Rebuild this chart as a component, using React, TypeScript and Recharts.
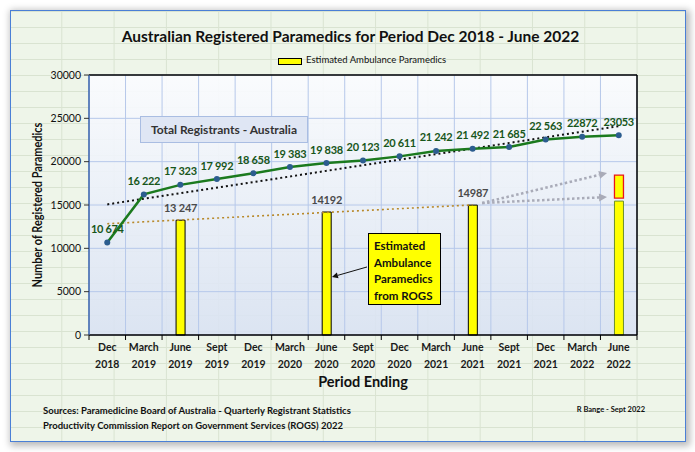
import React from 'react';
import {
  ComposedChart,
  Bar,
  Line,
  XAxis,
  YAxis,
  CartesianGrid,
  ReferenceLine,
  LabelList,
  Cell,
} from 'recharts';

const FONT = "Lato, 'Open Sans', sans-serif";

// quarter ending labels (two lines each)
const periodMonths = ['Dec', 'March', 'June', 'Sept', 'Dec', 'March', 'June', 'Sept', 'Dec', 'March', 'June', 'Sept', 'Dec', 'March', 'June'];
const periodYears = ['2018', '2019', '2019', '2019', '2019', '2020', '2020', '2020', '2020', '2021', '2021', '2021', '2021', '2022', '2022'];

// Paramedicine Board quarterly registrant totals
const totalRegistrants = [10674, 16222, 17323, 17992, 18658, 19383, 19838, 20123, 20611, 21242, 21492, 21685, 22563, 22872, 23053];
const totalLabels = ['10 674', '16 222', '17 323', '17 992', '18 658', '19 383', '19 838', '20 123', '20 611', '21 242', '21 492', '21 685', '22 563', '22872', '23053'];

// ROGS ambulance paramedic estimates (June years only), 2022 shown as a range
const ambulanceParamedics = [null, null, 13247, null, null, null, 14192, null, null, null, 14987, null, null, null, 15450];
const ambulanceLabels = [null, null, '13 247', null, null, null, '14192', null, null, null, '14987', null, null, null, null];
const ambulanceGap = [null, null, null, null, null, null, null, null, null, null, null, null, null, null, 350];
const ambulanceRange = [null, null, null, null, null, null, null, null, null, null, null, null, null, null, 2650];

// dotted trend lines (end points only)
const totalTrend = [15070, null, null, null, null, null, null, null, null, null, null, null, null, null, 24095];
const ambulanceTrend = [12840, null, null, null, null, null, null, null, null, null, 15010, null, null, null, null];

// projection arrows from the 2021 estimate toward 2022 (x = period index, y = count)
const projectionFrom = { x: 10.26, y: 15230 };
const projectionTo = [
  { x: 13.68, y: 18690 },
  { x: 13.68, y: 15920 },
];
// callout pointer onto the June 2020 bar
const calloutFrom = { x: 7.11, y: 7850 };
const calloutTo = { x: 6.15, y: 6690 };

const yTicks = [0, 5000, 10000, 15000, 20000, 25000, 30000];
const bandEdges = periodMonths.map((_, i) => i - 0.5).concat(periodMonths.length - 0.5);

const data = periodMonths.map((_, i) => ({
  idx: i,
  total: totalRegistrants[i],
  totalLabel: totalLabels[i],
  amb: ambulanceParamedics[i],
  ambLabel: ambulanceLabels[i],
  gap: ambulanceGap[i],
  range: ambulanceRange[i],
  totalTrend: totalTrend[i],
  ambTrend: ambulanceTrend[i],
}));

const arrowShape = (color: string, width: number, dash: string | undefined, head: number) => (p: any) => {
  const { x1, y1, x2, y2 } = p;
  const a = Math.atan2(y2 - y1, x2 - x1);
  const bx = x2 - head * Math.cos(a);
  const by = y2 - head * Math.sin(a);
  const w = head * 0.5;
  const pts = `${x2},${y2} ${bx - w * Math.sin(a)},${by + w * Math.cos(a)} ${bx + w * Math.sin(a)},${by - w * Math.cos(a)}`;
  return (
    <g>
      <line x1={x1} y1={y1} x2={bx} y2={by} stroke={color} strokeWidth={width} strokeDasharray={dash} />
      <polygon points={pts} fill={color} />
    </g>
  );
};

const PeriodTick = (props: any) => {
  const { x, y, payload } = props;
  const i = payload.value;
  return (
    <text textAnchor="middle" fill="#1a1a1a" fontSize={10.5} fontWeight={700} fontFamily={FONT}>
      <tspan x={x} y={y + 7}>{periodMonths[i]}</tspan>
      <tspan x={x} y={y + 24}>{periodYears[i]}</tspan>
    </text>
  );
};

// value labels drawn as plain text so they never wrap
const totalLabel = (p: any) => {
  if (!p.value) return null;
  return (
    <text x={p.x} y={p.y - 9.5} textAnchor="middle" fill="#17561a" fontSize={11} fontWeight={700} fontFamily={FONT} letterSpacing={-0.3}>
      {p.value}
    </text>
  );
};

const ambLabel = (p: any) => {
  if (!p.value) return null;
  return (
    <text x={p.x + p.width / 2} y={p.y - 8} textAnchor="middle" fill="#4a4a4a" fontSize={11} fontWeight={700} fontFamily={FONT} letterSpacing={-0.2}>
      {p.value}
    </text>
  );
};

const App: React.FC = () => {
  return (
    <div style={{ position: 'absolute', left: 0, top: 0, width: 695, height: 452, fontFamily: FONT }}>
      {/* worksheet-style frame */}
      <div
        style={{
          position: 'absolute',
          left: 10,
          top: 10,
          width: 674,
          height: 430,
          border: '1.5px solid #4a7fd6',
          backgroundColor: '#eef5e9',
          backgroundImage:
            'linear-gradient(to bottom, #d9e3d1 1px, transparent 1px), linear-gradient(to right, #d9e3d1 1px, transparent 1px)',
          backgroundSize: '100% 16px, 52.3px 100%',
          backgroundPosition: '0 0, -2px 0',
          boxShadow: '2px 2px 7px 2px rgba(0,0,0,0.28)',
        }}
      />

      <ComposedChart
        width={695}
        height={452}
        data={data}
        margin={{ top: 75, right: 58, bottom: 76, left: 0 }}
        style={{ position: 'absolute', left: 0, top: 0 }}
      >
        <defs>
          <linearGradient id="plotBg" x1="0" y1="0" x2="0" y2="1">
            <stop offset="0" stopColor="#fbfcff" stopOpacity={0.92} />
            <stop offset="1" stopColor="#d9e2f3" stopOpacity={0.88} />
          </linearGradient>
        </defs>
        <CartesianGrid xAxisId="grid" stroke="#b6c8ea" strokeWidth={1} fill="url(#plotBg)" />
        <XAxis
          xAxisId="grid"
          type="number"
          dataKey="idx"
          domain={[-0.5, 14.5]}
          ticks={bandEdges}
          height={1}
          tickSize={5}
          tick={() => <g />}
          axisLine={{ stroke: '#000', strokeWidth: 1.5 }}
          tickLine={{ stroke: '#000' }}
          allowDataOverflow
        />
        <XAxis
          xAxisId="lab"
          type="number"
          dataKey="idx"
          domain={[-0.5, 14.5]}
          ticks={data.map((d) => d.idx)}
          height={40}
          axisLine={false}
          tickLine={false}
          tick={<PeriodTick />}
          interval={0}
          allowDataOverflow
        />
        <YAxis
          domain={[0, 30000]}
          ticks={yTicks}
          width={89}
          tickSize={5}
          tickMargin={3}
          axisLine={{ stroke: '#3b64ad', strokeWidth: 1.5 }}
          tickLine={{ stroke: '#333' }}
          tick={{ fill: '#111', fontSize: 10.5, fontFamily: FONT }}
          interval={0}
        />

        <ReferenceLine xAxisId="lab" y={30000} stroke="#000" strokeWidth={1.5} />
        <ReferenceLine xAxisId="lab" x={14.5} stroke="#000" strokeWidth={1.5} />

        <Bar xAxisId="lab" dataKey="amb" stackId="rogs" barSize={9} fill="#ffff00" stroke="#000" strokeWidth={1} isAnimationActive={false}>
          {data.map((d) => (
            <Cell key={`amb-${d.idx}`} stroke={d.idx === 14 ? '#6b8f2c' : '#000'} />
          ))}
          <LabelList dataKey="ambLabel" content={ambLabel} />
        </Bar>
        <Bar xAxisId="lab" dataKey="gap" stackId="rogs" barSize={9} fill="none" stroke="none" isAnimationActive={false} />
        <Bar xAxisId="lab" dataKey="range" stackId="rogs" barSize={9} fill="#ffff00" stroke="#e8141c" strokeWidth={1.3} isAnimationActive={false} />

        <Line
          xAxisId="lab"
          dataKey="ambTrend"
          connectNulls
          stroke="#b8892a"
          strokeWidth={1.6}
          strokeDasharray="2 3"
          dot={false}
          isAnimationActive={false}
        />
        <Line
          xAxisId="lab"
          dataKey="totalTrend"
          connectNulls
          stroke="#111"
          strokeWidth={2}
          strokeDasharray="2 3"
          dot={false}
          isAnimationActive={false}
        />

        {projectionTo.map((to, i) => (
          <ReferenceLine
            key={`proj-${i}`}
            xAxisId="lab"
            segment={[projectionFrom, to]}
            stroke="#a9abb8"
            shape={arrowShape('#a9abb8', 2.5, '2.5 2.5', 8)}
          />
        ))}

        <Line
          xAxisId="lab"
          dataKey="total"
          stroke="#1b7a1e"
          strokeWidth={2.5}
          dot={{ r: 3, fill: '#2c5d8f', stroke: 'none' }}
          activeDot={false}
          isAnimationActive={false}
        >
          <LabelList dataKey="totalLabel" content={totalLabel} />
        </Line>

        <ReferenceLine
          xAxisId="lab"
          segment={[calloutFrom, calloutTo]}
          stroke="#111"
          shape={arrowShape('#111', 1, undefined, 6)}
        />
      </ComposedChart>

      {/* title */}
      <div style={{ position: 'absolute', left: 0, width: 701, top: 27, textAlign: 'center', fontSize: 15.5, fontWeight: 700, color: '#111' }}>
        Australian Registered Paramedics for Period Dec 2018 - June 2022
      </div>

      {/* legend */}
      <div style={{ position: 'absolute', left: 278, top: 58, width: 22, height: 5, background: '#ffff00', border: '1px solid #000' }} />
      <div style={{ position: 'absolute', left: 306, top: 54, fontSize: 9.5, color: '#111', whiteSpace: 'nowrap' }}>
        Estimated Ambulance Paramedics
      </div>

      {/* axis titles */}
      <div
        style={{
          position: 'absolute',
          left: 37,
          top: 205,
          transform: 'translate(-50%, -50%) rotate(-90deg) scaleX(0.81)',
          fontSize: 13.5,
          fontWeight: 700,
          color: '#111',
          whiteSpace: 'nowrap',
        }}
      >
        Number of Registered Paramedics
      </div>
      <div style={{ position: 'absolute', left: 263, width: 200, top: 373, textAlign: 'center', fontSize: 14.5, fontWeight: 700, color: '#111' }}>
        Period Ending
      </div>

      {/* annotations */}
      <div
        style={{
          position: 'absolute',
          left: 140,
          top: 116,
          width: 166,
          height: 25,
          background: '#dfe6f4',
          border: '1px solid #a9bde2',
          fontSize: 12,
          fontWeight: 700,
          color: '#333',
          lineHeight: '25px',
          textAlign: 'center',
        }}
      >
        Total Registrants - Australia
      </div>
      <div
        style={{
          position: 'absolute',
          left: 368,
          top: 233,
          width: 66,
          height: 66,
          paddingLeft: 5,
          paddingTop: 4,
          background: '#ffff00',
          border: '1px solid #000',
          fontSize: 11.5,
          fontWeight: 700,
          color: '#111',
          lineHeight: '16.5px',
          boxSizing: 'content-box',
        }}
      >
        Estimated
        <br />
        Ambulance
        <br />
        Paramedics
        <br />
        from ROGS
      </div>

      {/* sources */}
      <div style={{ position: 'absolute', left: 43, top: 403, fontSize: 9.5, fontWeight: 700, color: '#111', lineHeight: '15px', whiteSpace: 'nowrap' }}>
        Sources: Paramedicine Board of Australia - Quarterly Registrant Statistics
        <br />
        Productivity Commission Report on Government Services (ROGS) 2022
      </div>
      <div style={{ position: 'absolute', right: 50, top: 405, fontSize: 7.5, fontWeight: 700, color: '#111', whiteSpace: 'nowrap' }}>
        R Bange - Sept 2022
      </div>
    </div>
  );
};

export default App;
